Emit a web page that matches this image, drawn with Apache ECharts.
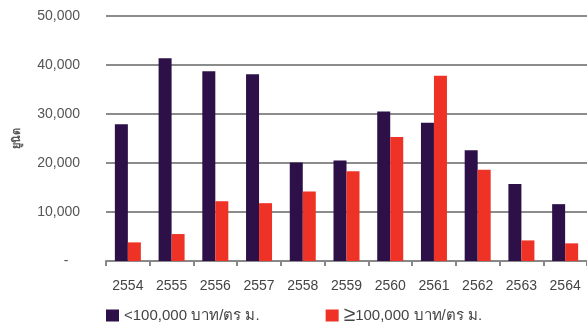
<!DOCTYPE html>
<html>
<head>
<meta charset="utf-8">
<script src="https://cdn.jsdelivr.net/npm/echarts@6/dist/echarts.min.js"></script>
<style>
  html, body { margin: 0; padding: 0; background: #fff; }
  #main { width: 587px; height: 324px; }
</style>
</head>
<body>
<div id="main"></div>
<script>
var years = ['2554', '2555', '2556', '2557', '2558', '2559', '2560', '2561', '2562', '2563', '2564'];
var below100k = [27900, 41400, 38700, 38100, 20100, 20500, 30500, 28200, 22600, 15700, 11600];
var above100k = [3800, 5500, 12200, 11800, 14200, 18300, 25300, 37800, 18600, 4200, 3600];
var nameBelow = '<100,000 บาท/ตร ม.';
var nameAbove = '≥100,000 บาท/ตร ม.';

var font = 'Liberation Sans, Arial, sans-serif';
var myChart = echarts.init(document.getElementById('main'));

var option = {
  animation: false,
  color: ['#2c1047', '#ee3326'],
  textStyle: { fontFamily: font },
  grid: { left: 106, right: -3, top: 16, bottom: 63 },
  legend: {
    left: 101,
    top: 305,
    padding: [0, 5],
    icon: 'rect',
    itemWidth: 13,
    itemHeight: 12,
    itemGap: 66,
    data: [nameBelow, nameAbove],
    textStyle: {
      fontSize: 15,
      lineHeight: 16,
      color: '#444',
      fontFamily: font,
      rich: {
        big: { fontSize: 21, lineHeight: 16, color: '#444', fontFamily: font }
      }
    },
    formatter: function (name) {
      if (name === nameAbove) {
        return '{big|≥}100,000 บาท/ตร ม.';
      }
      return name;
    }
  },
  xAxis: {
    type: 'category',
    data: years,
    axisLine: { lineStyle: { color: '#888', width: 2 } },
    axisTick: { show: true, length: 5, lineStyle: { color: '#888', width: 2 } },
    axisLabel: { color: '#444', fontSize: 14, margin: 18 }
  },
  yAxis: {
    type: 'value',
    min: 0,
    max: 50000,
    interval: 10000,
    name: 'ยูนิต',
    nameLocation: 'middle',
    nameRotate: 90,
    nameGap: 84,
    nameTextStyle: { fontSize: 11, fontWeight: 'bold', color: '#555' },
    axisLine: { show: false },
    axisTick: { show: false },
    splitLine: { lineStyle: { color: '#8c8c8c', width: 2 } },
    axisLabel: {
      color: '#555',
      fontSize: 14,
      margin: 26,
      formatter: function (v) {
        if (v === 0) return '-   ';
        return v.toLocaleString('en-US');
      }
    }
  },
  series: [
    {
      name: nameBelow,
      type: 'bar',
      barWidth: 13,
      barGap: '0%',
      data: below100k
    },
    {
      name: nameAbove,
      type: 'bar',
      barWidth: 13,
      barGap: '0%',
      data: above100k
    }
  ]
};

myChart.setOption(option);
</script>
</body>
</html>
